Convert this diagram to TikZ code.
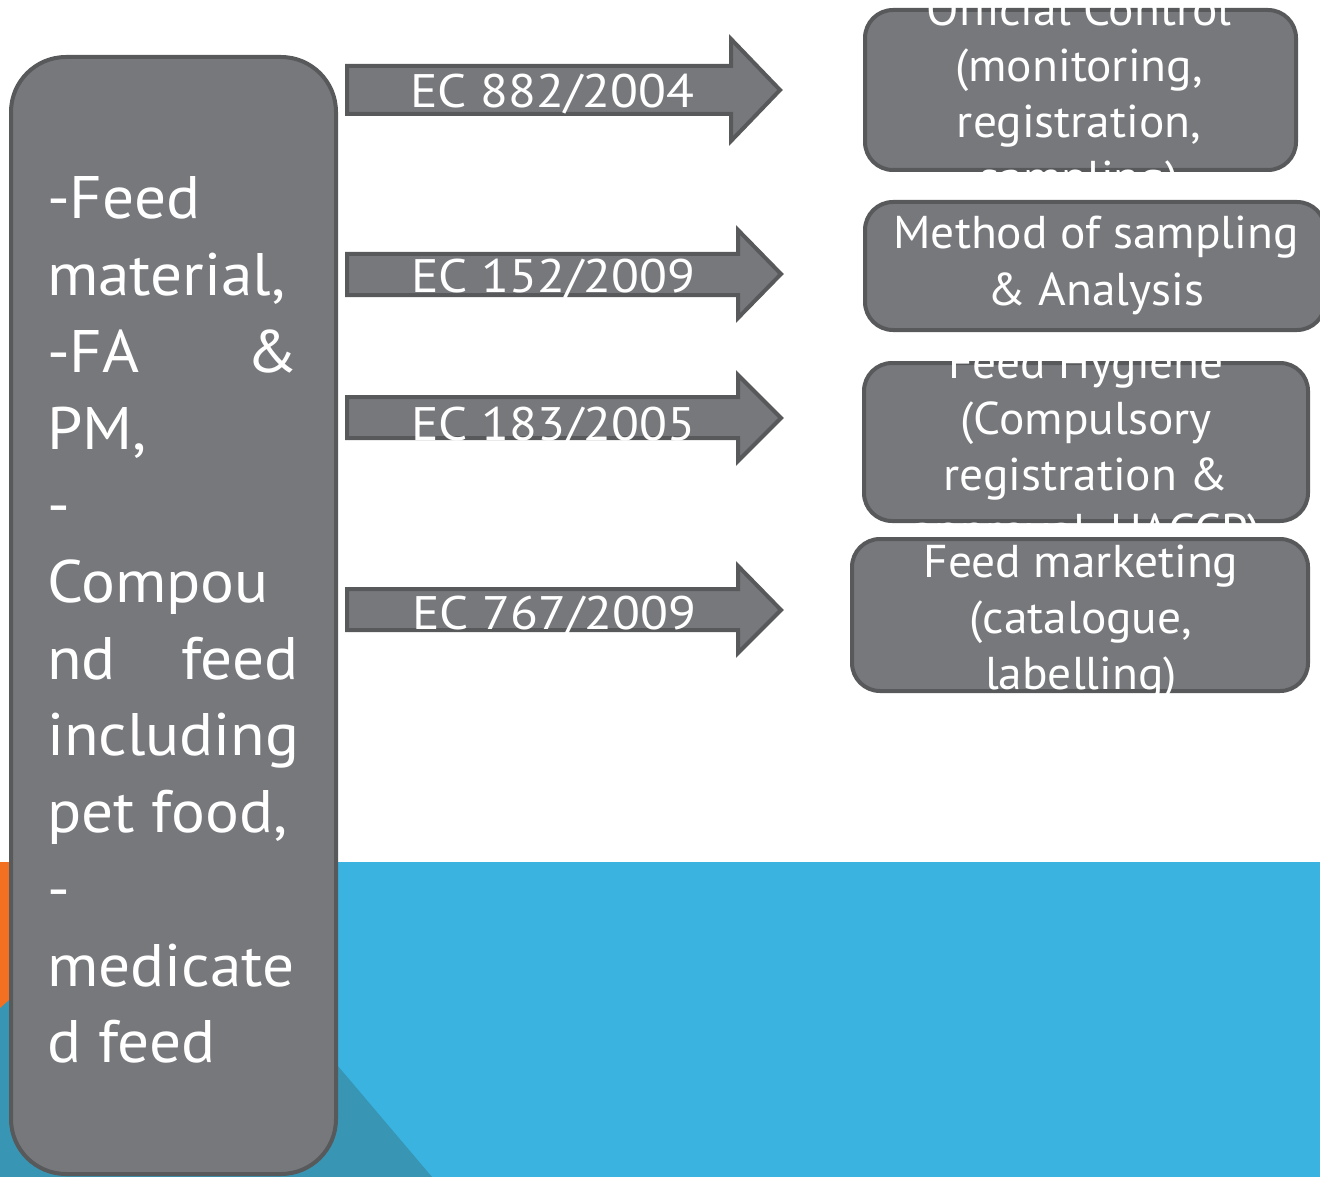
\documentclass[tikz,border=0pt]{standalone}
\usepackage{fontspec}
\setmainfont{PT Sans}
\newfontfamily\leftfont[FakeStretch=1.055]{PT Sans}
\newfontfamily\arrfont[FakeStretch=1.09]{PT Sans}
\newfontfamily\boxfont[FakeStretch=1.03]{PT Sans}
\definecolor{fillgray}{HTML}{77787C}
\definecolor{bordergray}{HTML}{58595B}
\definecolor{bandblue}{HTML}{3AB3E0}
\definecolor{darkteal}{HTML}{3895B3}
\definecolor{accentorange}{HTML}{F36F21}
\tikzset{
  gbox/.style={draw=bordergray, fill=fillgray, line width=4pt, rounded corners=#1, inner sep=0pt},
  barrow/.style={draw=bordergray, fill=fillgray, line width=4pt, line join=miter},
  lbl/.style={text=white, inner sep=0pt, anchor=base},
  leftlbl/.style={text=white, inner sep=0pt, anchor=base west, font=\leftfont\fontsize{60}{72}\selectfont},
  boxlbl/.style={lbl, font=\boxfont\fontsize{46}{56}\selectfont},
  arrlbl/.style={lbl, font=\arrfont\fontsize{47}{56}\selectfont},
}
\begin{document}
\begin{tikzpicture}[x=1pt,y=-1pt]
\useasboundingbox (0,0) rectangle (1320,1177);
\fill[white] (0,0) rectangle (1320,1177);
% background band
\fill[bandblue] (0,862) rectangle (1320,1177);
\fill[darkteal] (165,862) -- (432,1177) -- (0,1177) -- (0,862) -- cycle;
\fill[accentorange] (0,862) -- (165,862) -- (0,1008) -- cycle;

% left box
\node[gbox=55pt, minimum width=325pt, minimum height=1117pt] (src) at (173.5,615.5) {};
\node[leftlbl] (l1) at (47,219) {-Feed};
\node[leftlbl] (l2) at (47,295.7) {material,};
\node[leftlbl] (l3) at (47,372.4) {\hbox to 251pt{-FA\hfill\&}};
\node[leftlbl] (l4) at (47,449.1) {PM,};
\node[leftlbl] (l5) at (47,525.8) {-};
\node[leftlbl] (l6) at (47,602.5) {Compou};
\node[leftlbl] (l7) at (47,679.2) {\hbox to 251pt{nd\hfill feed}};
\node[leftlbl] (l8) at (47,755.9) {including};
\node[leftlbl] (l9) at (47,832.6) {pet food,};
\node[leftlbl] (l10) at (47,909.3) {-};
\node[leftlbl] (l11) at (47,986) {medicate};
\node[leftlbl] (l12) at (47,1062.7) {d feed};

% block arrows
\draw[barrow] (347,66) -- (731,66) -- (731,39) -- (780,90) -- (731,141) -- (731,114) -- (347,114) -- cycle;
\node[arrlbl] (a1) at (552,108) {EC 882/2004};
\draw[barrow] (347,254) -- (738,254) -- (738,230) -- (781,274) -- (738,318) -- (738,295) -- (347,295) -- cycle;
\node[arrlbl] (a2) at (553,292) {EC 152/2009};
\draw[barrow] (347,397) -- (738,397) -- (738,375) -- (781,418) -- (738,461) -- (738,438) -- (347,438) -- cycle;
\node[arrlbl] (a3) at (553,440) {EC 183/2005};
\draw[barrow] (347,589) -- (738,589) -- (738,566) -- (781,610) -- (738,653) -- (738,630) -- (347,630) -- cycle;
\node[arrlbl] (a4) at (554,629) {EC 767/2009};

% right boxes
\node[gbox=28pt, minimum width=431pt, minimum height=160pt] (b1) at (1080.5,90) {};
\node[boxlbl] (b1a) at (1079,26) {Official Control};
\node[boxlbl] (b1b) at (1079,82) {(monitoring,};
\node[boxlbl] (b1c) at (1079,138) {registration,};
\node[boxlbl] (b1d) at (1079,194) {sampling)};

\node[gbox=28pt, minimum width=460pt, minimum height=128pt] (b2) at (1095,266) {};
\node[boxlbl] (b2a) at (1096,248) {Method of sampling};
\node[boxlbl] (b2b) at (1096,305) {\& Analysis};

\node[gbox=28pt, minimum width=444pt, minimum height=158pt] (b3) at (1086,442) {};
\node[boxlbl] (b3a) at (1086,378) {Feed Hygiene};
\node[boxlbl] (b3b) at (1086,434) {(Compulsory};
\node[boxlbl] (b3c) at (1086,490) {registration \&};
\node[boxlbl] (b3d) at (1086,546) {approval, HACCP)};

\node[gbox=28pt, minimum width=456pt, minimum height=152pt] (b4) at (1080,615) {};
\node[boxlbl] (b4a) at (1081,577) {Feed marketing};
\node[boxlbl] (b4b) at (1081,633) {(catalogue,};
\node[boxlbl] (b4c) at (1081,689) {labelling)};
\end{tikzpicture}
\end{document}
